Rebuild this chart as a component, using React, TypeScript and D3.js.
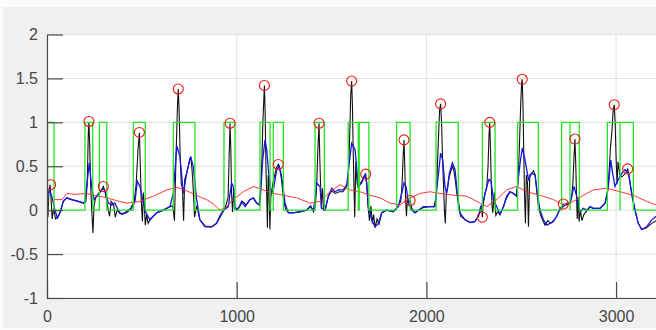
import React, { useEffect, useRef } from 'react';
import * as d3 from 'd3';

type Pt = [number, number];

const xTicks = [0, 1000, 2000, 3000];
const yTicks = [-1, -0.5, 0, 0.5, 1, 1.5, 2];

// raw ECG (black)
const rawSignal: Pt[] = [
  [0, 0.1], [5, -0.08], [10, 0.2], [16, 0.29], [22, 0.12], [27, -0.1], [35, 0.02], [45, -0.1], [55, -0.08], [69, -0.02],
  [86, 0.1], [104, 0.14], [130, 0.12], [165, 0.1], [192, 0.08],
  [205, 0.1], [212, 0.3], [218, 0.9], [221, 1.0], [225, 0.75], [230, 0.3], [236, 0.0], [242, -0.26], [248, 0.05], [256, 0.14],
  [270, 0.18], [285, 0.22], [297, 0.27], [305, 0.22], [315, 0.1], [323, 0.0], [330, -0.07], [338, 0.1], [345, 0.08], [352, 0.05],
  [360, -0.08], [370, 0.0], [385, -0.04], [410, -0.03], [440, 0.02],
  [460, 0.1], [470, 0.3], [480, 0.7], [487, 0.88], [492, 0.5], [497, 0.1], [503, -0.13], [508, 0.2], [513, 0.05], [518, -0.17],
  [525, -0.05], [533, -0.15], [545, -0.1], [578, -0.03], [613, 0.0], [648, 0.04],
  [663, 0.05], [672, -0.12], [680, 0.6], [688, 1.2], [692, 1.38], [697, 1.1], [702, 0.6], [708, 0.3], [714, 0.25], [720, -0.12],
  [726, 0.35], [736, 0.42], [745, 0.5], [752, 0.58], [758, 0.6], [765, 0.45], [772, 0.2], [778, -0.08], [789, 0.05], [806, -0.11],
  [833, -0.18], [868, -0.19], [894, -0.15], [920, -0.05],
  [940, 0.03], [955, 0.15], [960, 0.6], [965, 0.99], [969, 0.7], [973, 0.2], [978, -0.02], [985, 0.25], [991, 0.02], [1000, 0.0],
  [1015, 0.04], [1030, 0.1], [1050, 0.06], [1070, 0.12], [1088, 0.14], [1105, 0.08], [1118, 0.06],
  [1125, 0.2], [1132, 0.5], [1138, 1.0], [1146, 1.42], [1150, 1.1], [1154, 0.5], [1158, 0.2], [1162, -0.2], [1166, 0.4], [1170, 0.3],
  [1175, -0.22], [1180, 0.15], [1190, 0.3], [1200, 0.4], [1210, 0.48], [1219, 0.52], [1226, 0.48], [1236, 0.35], [1248, 0.1],
  [1260, 0.0], [1275, -0.03], [1300, -0.03], [1335, -0.02], [1370, 0.0], [1390, 0.05], [1405, -0.02],
  [1415, 0.05], [1422, 0.3], [1428, 0.7], [1434, 0.99], [1438, 0.6], [1442, 0.3], [1446, 0.02], [1452, 0.25], [1458, 0.0],
  [1466, 0.0], [1483, 0.16], [1500, 0.22], [1520, 0.19], [1540, 0.21], [1560, 0.21], [1580, 0.27],
  [1588, 0.35], [1595, 0.8], [1601, 1.3], [1606, 1.47], [1610, 1.2], [1614, 0.7], [1618, 0.3], [1622, -0.08], [1628, 0.55],
  [1635, 0.3], [1642, 0.25], [1650, 0.3], [1660, 0.33], [1670, 0.38], [1680, 0.41], [1686, 0.3], [1692, 0.05], [1700, -0.12],
  [1708, 0.05], [1715, -0.15], [1722, -0.05], [1730, -0.2], [1740, -0.1], [1750, -0.16], [1765, -0.03], [1790, 0.0], [1826, -0.02],
  [1852, 0.05], [1865, 0.1],
  [1872, 0.3], [1877, 0.6], [1882, 0.8], [1886, 0.5], [1890, 0.15], [1895, -0.07], [1900, 0.15], [1907, 0.08], [1914, 0.11],
  [1923, 0.02], [1940, -0.03], [1958, 0.0], [1984, 0.03], [2019, 0.04], [2040, 0.04],
  [2052, 0.15], [2058, 0.5], [2065, 0.9], [2070, 1.15], [2075, 1.21], [2080, 1.0], [2085, 0.6], [2090, 0.3], [2095, 0.0],
  [2100, -0.15], [2105, 0.2], [2112, 0.25], [2120, 0.38], [2130, 0.45], [2137, 0.5], [2145, 0.45], [2152, 0.35], [2160, 0.2],
  [2170, 0.05], [2180, -0.07], [2204, -0.11], [2230, -0.14], [2256, -0.13], [2274, -0.07], [2285, 0.0],
  [2290, 0.05], [2295, -0.08], [2300, 0.1], [2310, 0.2], [2318, 0.25], [2325, 0.5], [2330, 0.85], [2334, 1.0], [2338, 0.7],
  [2342, 0.3], [2346, 0.05], [2350, -0.03], [2358, 0.2], [2366, -0.06], [2375, -0.02], [2388, -0.05], [2406, 0.04], [2423, 0.14],
  [2441, 0.21], [2459, 0.19], [2474, 0.16],
  [2482, 0.3], [2490, 0.7], [2497, 1.2], [2502, 1.45], [2505, 1.49], [2509, 1.2], [2513, 0.7], [2517, 0.2], [2522, -0.15],
  [2527, 0.4], [2533, 0.3], [2538, -0.19], [2545, 0.4], [2555, 0.42], [2565, 0.45], [2573, 0.4], [2580, 0.25], [2590, 0.05],
  [2599, -0.03], [2610, -0.1], [2625, -0.17], [2640, -0.12], [2655, -0.15], [2670, -0.12], [2687, -0.07], [2705, 0.02],
  [2722, 0.07], [2740, 0.06], [2758, 0.08], [2766, 0.16],
  [2772, 0.3], [2778, 0.6], [2783, 0.81], [2787, 0.55], [2791, 0.2], [2795, -0.1], [2800, 0.15], [2805, -0.13], [2812, 0.0],
  [2820, -0.12], [2830, -0.05], [2845, -0.01], [2863, 0.04], [2880, 0.02], [2915, 0.02], [2942, 0.08], [2955, 0.2],
  [2962, 0.4], [2970, 0.7], [2978, 0.9], [2985, 1.15], [2990, 1.2], [2995, 1.0], [3000, 0.6], [3005, 0.3], [3010, 0.55],
  [3020, 0.4], [3030, 0.38], [3040, 0.4], [3050, 0.42], [3061, 0.47], [3068, 0.4], [3075, 0.3], [3085, 0.15], [3095, 0.05],
  [3105, -0.05], [3117, -0.15], [3135, -0.22], [3160, -0.2], [3188, -0.15], [3211, -0.12], [3240, -0.1],
];

// filtered signal (blue)
const filtered: Pt[] = [
  [0, 0.12], [12, 0.23], [25, 0.16], [42, 0.0], [55, -0.09], [69, -0.03], [86, 0.1], [104, 0.14], [130, 0.12], [165, 0.1],
  [192, 0.08], [200, 0.1], [209, 0.27], [223, 0.54], [235, 0.27], [248, 0.12], [262, 0.16], [279, 0.21], [297, 0.25], [311, 0.19],
  [323, 0.08], [341, 0.06], [358, 0.08], [376, 0.0], [394, -0.05], [420, -0.03], [446, 0.02], [464, 0.1], [476, 0.33], [490, 0.27],
  [504, 0.12], [522, -0.03], [543, -0.11], [578, -0.03], [613, 0.0], [648, 0.04], [666, 0.19], [684, 0.73], [701, 0.61],
  [719, 0.19], [736, 0.42], [757, 0.61], [771, 0.5], [789, 0.12], [806, -0.11], [833, -0.19], [868, -0.19], [894, -0.15],
  [912, -0.06], [930, 0.0], [956, 0.04], [965, 0.19], [973, 0.31], [982, 0.27], [991, 0.02], [1009, 0.02], [1026, 0.1],
  [1044, 0.04], [1070, 0.12], [1088, 0.14], [1105, 0.08], [1120, 0.06], [1126, 0.19], [1137, 0.57], [1149, 0.8], [1158, 0.69],
  [1167, 0.46], [1176, 0.27], [1184, 0.19], [1193, 0.23], [1211, 0.46], [1225, 0.5], [1237, 0.38], [1255, 0.08], [1272, -0.03],
  [1299, -0.03], [1334, -0.015], [1369, 0.0], [1387, 0.04], [1404, 0.0], [1413, 0.12], [1422, 0.31], [1439, 0.27], [1448, 0.02],
  [1466, 0.0], [1483, 0.16], [1501, 0.25], [1518, 0.21], [1536, 0.23], [1562, 0.23], [1580, 0.29], [1589, 0.46], [1606, 0.76],
  [1624, 0.69], [1641, 0.27], [1659, 0.31], [1676, 0.4], [1685, 0.31], [1694, 0.04], [1712, -0.11], [1729, -0.19], [1747, -0.15],
  [1764, -0.03], [1791, 0.0], [1826, -0.015], [1852, 0.04], [1870, 0.19], [1882, 0.31], [1893, 0.27], [1905, 0.08], [1923, 0.0],
  [1940, -0.03], [1958, 0.0], [1984, 0.04], [2019, 0.04], [2046, 0.04], [2054, 0.23], [2068, 0.5], [2075, 0.65], [2086, 0.57],
  [2098, 0.27], [2107, 0.19], [2121, 0.42], [2137, 0.54], [2151, 0.46], [2163, 0.19], [2177, -0.03], [2204, -0.11], [2230, -0.14],
  [2256, -0.13], [2274, -0.07], [2286, 0.04], [2300, 0.08], [2309, 0.19], [2318, 0.27], [2330, 0.35], [2341, 0.33], [2353, 0.12],
  [2371, 0.04], [2388, -0.05], [2406, 0.04], [2423, 0.16], [2441, 0.21], [2459, 0.19], [2476, 0.16], [2480, 0.27], [2494, 0.54],
  [2506, 0.71], [2520, 0.57], [2538, 0.35], [2555, 0.42], [2573, 0.4], [2585, 0.19], [2599, 0.0], [2617, -0.11], [2635, -0.17],
  [2652, -0.15], [2670, -0.13], [2687, -0.07], [2705, 0.02], [2722, 0.04], [2740, 0.08], [2758, 0.08], [2766, 0.16], [2778, 0.27],
  [2792, 0.16], [2801, 0.04], [2813, -0.015], [2827, 0.02], [2845, 0.0], [2863, 0.04], [2880, 0.02], [2915, 0.02], [2942, 0.08],
  [2959, 0.27], [2972, 0.57], [2982, 0.42], [2994, 0.27], [3012, 0.35], [3030, 0.42], [3047, 0.46], [3065, 0.42], [3082, 0.19],
  [3100, 0.0], [3117, -0.15], [3135, -0.22], [3161, -0.19], [3188, -0.11], [3211, -0.07],
];

// adaptive threshold (red)
const threshold: Pt[] = [
  [16, 0.1], [40, 0.12], [80, 0.12], [104, 0.19], [150, 0.18], [209, 0.19], [262, 0.16], [300, 0.15], [332, 0.13], [380, 0.1],
  [420, 0.08], [490, 0.1], [561, 0.16], [631, 0.23], [684, 0.26], [736, 0.22], [807, 0.15], [842, 0.12], [877, 0.07], [912, 0.0],
  [947, 0.04], [982, 0.12], [1035, 0.21], [1088, 0.27], [1140, 0.23], [1193, 0.19], [1246, 0.17], [1316, 0.14], [1387, 0.08],
  [1439, 0.1], [1492, 0.21], [1545, 0.29], [1597, 0.23], [1650, 0.21], [1703, 0.17], [1756, 0.14], [1808, 0.08], [1861, 0.06],
  [1914, 0.14], [1967, 0.19], [2019, 0.21], [2072, 0.19], [2143, 0.17], [2213, 0.16], [2283, 0.08], [2318, 0.04], [2371, 0.12],
  [2423, 0.23], [2476, 0.27], [2529, 0.21], [2599, 0.17], [2670, 0.12], [2722, 0.06], [2775, 0.1], [2828, 0.17], [2880, 0.23],
  [2951, 0.25], [3021, 0.21], [3091, 0.17], [3161, 0.1], [3211, 0.06],
];

// detected peaks (red circles)
const peaks: Pt[] = [
  [19, 0.29], [221, 1.01], [297, 0.27], [487, 0.885], [692, 1.38], [965, 0.99], [1146, 1.42], [1219, 0.52], [1434, 0.99],
  [1606, 1.47], [1680, 0.41], [1882, 0.8], [1914, 0.11], [2075, 1.21], [2295, -0.08], [2334, 1.0], [2505, 1.49], [2722, 0.07],
  [2783, 0.81], [2990, 1.2], [3061, 0.47],
];

// search windows (green, 0/1)
const pulses: Pt[] = [
  [3, 37], [200, 241], [276, 315], [455, 518], [666, 780], [933, 991], [1123, 1176], [1193, 1246], [1413, 1462],
  [1588, 1641], [1646, 1697], [1843, 1914], [2051, 2168], [2295, 2362], [2481, 2590], [2713, 2757], [2757, 2806],
  [2954, 3021], [3021, 3091],
];

const W = 656;
const H = 330;

export default function App() {
  const ref = useRef<SVGSVGElement>(null);

  useEffect(() => {
    const svg = d3.select(ref.current);
    svg.selectAll('*').remove();

    const x = d3.scaleLinear().domain([0, 3300]).range([47, 673]);
    const y = d3.scaleLinear().domain([-1, 2]).range([298, 34.5]);
    const x0 = x(0);
    const yTop = y(2);
    const yBot = y(-1);

    svg.append('rect').attr('width', W).attr('height', H).attr('fill', '#fbfbfb');
    svg.append('rect').attr('x', 3).attr('y', 7).attr('width', W - 3).attr('height', 321).attr('fill', '#f0f0f0');
    svg.append('rect').attr('x', x0).attr('y', yTop).attr('width', W - x0).attr('height', yBot - yTop).attr('fill', '#fff');

    // grid
    const grid = svg.append('g').attr('stroke', '#e1e1e1').attr('stroke-width', 1);
    grid.selectAll('line.h').data(yTicks).enter().append('line')
      .attr('x1', x0).attr('x2', W).attr('y1', d => y(d)).attr('y2', d => y(d));
    grid.selectAll('line.v').data(xTicks).enter().append('line')
      .attr('x1', d => x(d)).attr('x2', d => x(d)).attr('y1', yTop).attr('y2', yBot);

    svg.append('clipPath').attr('id', 'plot')
      .append('rect').attr('x', x0).attr('y', yTop - 10).attr('width', W - x0).attr('height', yBot - yTop + 10);
    const plot = svg.append('g').attr('clip-path', 'url(#plot)').attr('fill', 'none');

    const line = d3.line<Pt>().x(d => x(d[0])).y(d => y(d[1]));

    plot.append('path').attr('d', line(rawSignal)).attr('stroke', '#111').attr('stroke-width', 1.1);
    plot.append('path').attr('d', line(filtered)).attr('stroke', '#1515e6').attr('stroke-width', 1.3);
    plot.append('path').attr('d', line(threshold)).attr('stroke', '#ff2020').attr('stroke-width', 0.9);

    const step: Pt[] = [[0, 0]];
    pulses.forEach(([a, b]) => { step.push([a, 0], [a, 1], [b, 1], [b, 0]); });
    step.push([3300, 0]);
    plot.append('path').attr('d', line(step)).attr('stroke', '#22e622').attr('stroke-width', 1.3);

    plot.selectAll('circle').data(peaks).enter().append('circle')
      .attr('cx', d => x(d[0])).attr('cy', d => y(d[1])).attr('r', 5)
      .attr('stroke', '#f01818').attr('stroke-width', 1.1);

    // axes
    const yAxis = svg.append('g').attr('transform', `translate(${x0},0)`)
      .call(d3.axisLeft(y).tickValues(yTicks).tickSizeInner(-16).tickSizeOuter(0).tickPadding(9).tickFormat(d => String(d)));
    const xAxis = svg.append('g').attr('transform', `translate(0,${yBot})`)
      .call(d3.axisBottom(x).tickValues(xTicks).tickSizeInner(-16).tickSizeOuter(0).tickPadding(13).tickFormat(d => String(d)));

    [yAxis, xAxis].forEach(g => {
      g.selectAll('path, line').attr('stroke', '#4a4a4a').attr('stroke-width', 1.2);
      g.selectAll('text').attr('fill', '#474747').style('font-size', '16px')
        .style('font-family', '"Liberation Sans", Arial, sans-serif');
    });
  }, []);

  return (
    <svg ref={ref} width={W} height={H} style={{ position: 'absolute', left: 0, top: 0, display: 'block' }} />
  );
}
